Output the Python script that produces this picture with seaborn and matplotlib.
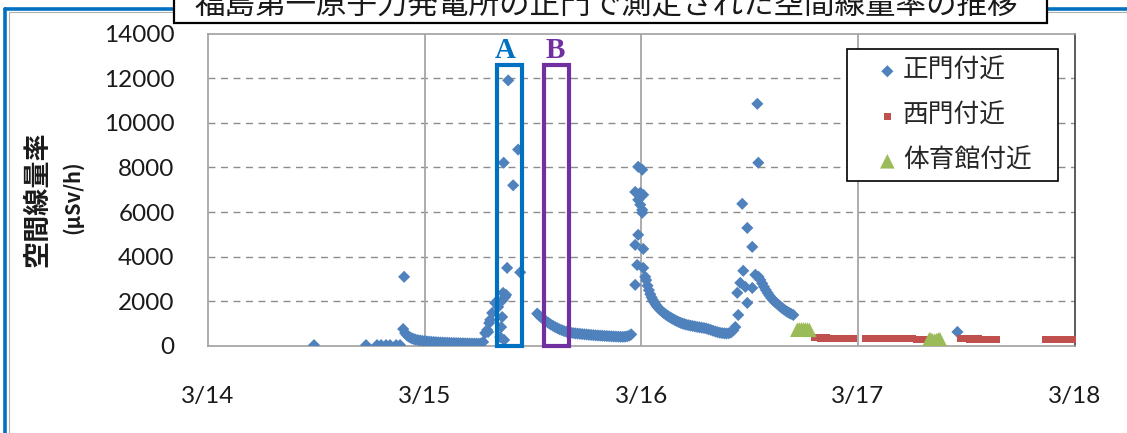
import matplotlib
matplotlib.use("Agg")
import matplotlib.pyplot as plt
import seaborn as sns
import pandas as pd
from matplotlib.patches import Rectangle
from matplotlib.lines import Line2D

# ---------------- data (hours since 3/14 00:00, dose rate in uSv/h) ----------------
main_gate_hours = [
    # 3/14 daytime + night decay
    11.75, 17.51, 18.73, 19.18, 19.73, 20.17, 20.84, 21.28, 21.62, 21.73,
    21.84, 22.0, 22.2, 22.4, 22.6, 22.8, 23.0, 23.25, 23.5, 23.75,
    24.0, 24.25, 24.5, 24.75, 25.0, 25.25, 25.5, 25.75, 26.0, 26.25,
    26.5, 26.75, 27.0, 27.25, 27.5, 27.75, 28.0, 28.25, 28.5, 28.75,
    29.0, 29.25, 29.5, 29.75, 30.0, 30.2,
    # 3/15 morning burst (A)
    30.48, 30.71, 30.93, 31.04, 31.15, 31.26, 31.48, 31.81, 32.15, 32.37,
    32.48, 32.59, 32.65, 32.70, 32.76, 32.81, 32.92, 33.03, 33.14, 33.26,
    33.81, 34.36, 34.59,
    # 3/15 afternoon decay (B)
    36.47, 36.7, 36.95, 37.2, 37.45, 37.7, 37.95, 38.2, 38.45, 38.7,
    38.95, 39.2, 39.45, 39.7, 39.95, 40.2, 40.45, 40.7, 40.95, 41.2,
    41.45, 41.7, 41.95, 42.2, 42.45, 42.7, 42.95, 43.2, 43.45, 43.7,
    43.95, 44.2, 44.45, 44.7, 44.95, 45.2, 45.45, 45.7, 45.95, 46.2,
    46.45, 46.7, 46.89,
    # 3/16 midnight burst
    47.33, 47.33, 47.33, 47.55, 47.66, 47.66, 47.66, 47.89, 47.89, 48.11,
    48.11, 48.11, 48.22, 48.22, 48.22, 48.44,
    # 3/16 decay
    48.55, 48.7, 48.85, 49.0, 49.15, 49.3, 49.45, 49.6, 49.75, 49.95,
    50.15, 50.35, 50.55, 50.75, 50.95, 51.15, 51.35, 51.55, 51.75, 51.95,
    52.15, 52.35, 52.55, 52.75, 52.95, 53.2, 53.45, 53.7, 53.95, 54.2,
    54.45, 54.7, 54.95, 55.2, 55.45, 55.7, 55.95, 56.2, 56.45, 56.7,
    56.95, 57.2, 57.45, 57.7, 57.95, 58.2, 58.42,
    # 3/16 late-morning burst
    58.64, 58.75, 58.97, 59.19, 59.30, 59.53, 59.75, 59.75, 60.30, 60.30,
    60.64, 60.86, 60.97,
    # 3/16 afternoon decay
    61.0, 61.2, 61.4, 61.6, 61.8, 62.0, 62.2, 62.4, 62.6, 62.8,
    63.0, 63.2, 63.4, 63.6, 63.8, 64.0, 64.2, 64.4, 64.6, 64.85,
    # 3/17
    83.03,
]
main_gate_values = [
    40, 40, 40, 40, 40, 40, 40, 40, 760, 3100,
    580, 500, 430, 380, 340, 310, 285, 262, 245, 230,
    215, 205, 195, 187, 180, 172, 165, 160, 155, 150,
    146, 142, 138, 134, 130, 127, 124, 121, 118, 115,
    113, 110, 108, 106, 104, 103,
    180, 580, 720, 630, 1030, 1170, 1480, 1930, 1750, 400,
    850, 1300, 2060, 2380, 8210, 270, 2200, 2290, 3500, 11900,
    7200, 8800, 3300,
    1450, 1360, 1270, 1190, 1110, 1040, 970, 910, 850, 800,
    750, 710, 670, 640, 615, 595, 580, 565, 555, 545,
    535, 525, 515, 505, 495, 487, 480, 472, 465, 458,
    452, 446, 440, 434, 428, 423, 418, 414, 412, 418,
    435, 470, 520,
    6900, 4530, 2740, 3630, 8030, 6550, 4980, 6860, 6330, 7900,
    6100, 5970, 6775, 4350, 3500, 3100,
    2950, 2700, 2500, 2320, 2180, 2060, 1950, 1860, 1770, 1680,
    1600, 1530, 1460, 1400, 1345, 1295, 1245, 1200, 1155, 1115,
    1075, 1040, 1010, 985, 960, 935, 915, 895, 875, 855,
    838, 820, 805, 785, 755, 720, 685, 650, 620, 595,
    578, 568, 562, 570, 610, 700, 850,
    2380, 1390, 2830, 6370, 3370, 2650, 5290, 1930, 4440, 2600,
    3190, 10850, 8210,
    3100, 2960, 2800, 2650, 2510, 2380, 2260, 2150, 2060, 1980,
    1910, 1840, 1770, 1700, 1640, 1580, 1530, 1480, 1440, 1390,
    630,
]

west_gate_hours = [
    67.2, 67.5, 67.9, 68.2, 68.5, 68.9, 69.2, 69.5, 69.9, 70.2, 70.5, 70.9, 71.2, 71.5,
    72.8, 73.1, 73.5, 73.8, 74.1, 74.5, 74.8, 75.1, 75.5, 75.8, 76.1, 76.5, 76.8, 77.1,
    77.5, 77.8, 78.1, 78.5, 78.8, 79.1, 79.4,
    83.4, 83.7, 84.1, 84.4, 84.7, 85.1, 85.4, 85.7, 86.1, 86.4, 86.7, 87.0, 87.3,
    92.8, 93.1, 93.5, 93.8, 94.1, 94.5, 94.8, 95.1, 95.5, 95.8,
]
west_gate_values = [
    365, 362, 360, 361, 358, 356, 355, 354, 352, 350, 351, 348, 346, 345,
    345, 344, 343, 342, 341, 340, 340, 338, 337, 336, 335, 334, 333, 332,
    331, 330, 330, 300, 290, 285, 280,
    320, 318, 316, 315, 314, 313, 312, 311, 310, 309, 308, 307, 306,
    305, 304, 303, 302, 301, 300, 300, 299, 298, 297,
]

gym_hours = [65.29, 65.51, 65.74, 65.96, 66.18, 66.40, 66.62,
             79.92, 80.09, 80.26, 80.48, 80.70, 80.92, 81.09]
gym_values = [730, 740, 745, 745, 740, 735, 725,
              300, 290, 250, 240, 260, 290, 300]

day_ticks = [0, 24, 48, 72, 96]
day_labels = ["3/14", "3/15", "3/16", "3/17", "3/18"]
y_ticks = [0, 2000, 4000, 6000, 8000, 10000, 12000, 14000]

series_names = ["正門付近", "西門付近", "体育館付近"]
title_text = "福島第一原子力発電所の正門で測定された空間線量率の推移"

# ---------------- styling ----------------
sns.set_style("white")
plt.rcParams["font.family"] = ["Lato", "Noto Sans CJK JP", "DejaVu Sans"]
CJK = ["Noto Sans CJK JP", "DejaVu Sans"]

W, H = 1127, 433
fig = plt.figure(figsize=(W / 100, H / 100), dpi=100)
fig.patch.set_facecolor("white")

def fx(px):
    return px / W

def fy(py):
    return 1 - py / H

ax_left, ax_right, ax_top, ax_bottom = 208, 1074.5, 33.5, 346
ax_w, ax_h = ax_right - ax_left, ax_bottom - ax_top
ax = fig.add_axes([fx(ax_left), fy(ax_bottom), fx(ax_w), ax_h / H])

def axfx(px):
    return (px - ax_left) / ax_w

def axfy(py):
    return (ax_bottom - py) / ax_h

main_df = pd.DataFrame({"hour": main_gate_hours, "value": main_gate_values})
west_df = pd.DataFrame({"hour": west_gate_hours, "value": west_gate_values})
gym_df = pd.DataFrame({"hour": gym_hours, "value": gym_values})

sns.scatterplot(data=main_df, x="hour", y="value", ax=ax, marker="D", s=38,
                color="#4F81BD", edgecolor="none", linewidth=0, label=series_names[0], zorder=4)
sns.scatterplot(data=west_df, x="hour", y="value", ax=ax, marker="s", s=26,
                color="#C0504D", edgecolor="none", linewidth=0, label=series_names[1], zorder=4,
                clip_on=False)
sns.scatterplot(data=gym_df, x="hour", y="value", ax=ax, marker="^", s=110,
                color="#9BBB59", edgecolor="none", linewidth=0, label=series_names[2], zorder=5)

ax.set_xlim(0, 96)
ax.set_ylim(0, 14000)
ax.set_xlabel("")
ax.set_ylabel("")
ax.set_xticks(day_ticks)
ax.set_xticklabels(day_labels)
ax.set_xticks([h for h in range(6, 96, 6) if h % 24 != 0], minor=True)
ax.set_yticks(y_ticks)
ax.set_yticklabels([str(v) for v in y_ticks])

ax.tick_params(axis="x", which="major", length=0, pad=29, labelsize=17.5, labelcolor="#1a1a1a")
ax.tick_params(axis="x", which="minor", direction="in", length=6, width=1, color="#9a9a9a")
ax.tick_params(axis="y", which="major", length=0, pad=24, labelsize=17.5, labelcolor="#1a1a1a")

ax.grid(False)
for v in y_ticks[1:-1]:
    ax.axhline(v, color="#8c8c8c", lw=1.0, ls=(0, (5, 4)), zorder=1)
for d in day_ticks[1:-1]:
    ax.axvline(d, color="#a6a6a6", lw=1.3, zorder=1)

for side in ["left", "bottom", "top"]:
    ax.spines[side].set_color("#a0a0a0")
    ax.spines[side].set_linewidth(1.2)
ax.spines["right"].set_color("#404040")
ax.spines["right"].set_linewidth(1.2)

# A / B boxes
boxA = Rectangle((32.03, 20), 34.79 - 32.03, 12580, fill=False, edgecolor="#0070C0", lw=3.0,
                 zorder=6, clip_on=False)
boxB = Rectangle((37.28, 0), 40.04 - 37.28, 12600, fill=False, edgecolor="#7030A0", lw=3.0,
                 zorder=6, clip_on=False)
ax.add_patch(boxA)
ax.add_patch(boxB)
ax.text(32.97, 12880, "A", color="#0070C0", fontsize=21, fontweight="bold",
        family="Liberation Serif", ha="center", va="baseline", zorder=7)
ax.text(38.50, 12880, "B", color="#7030A0", fontsize=21, fontweight="bold",
        family="Liberation Serif", ha="center", va="baseline", zorder=7)

# legend: frame drawn separately to match the wide padding of the original
ax.add_patch(Rectangle((axfx(847), axfy(181)), axfx(1058) - axfx(847), axfy(49) - axfy(181),
                       transform=ax.transAxes, facecolor="white", edgecolor="black", lw=1.2,
                       zorder=8, clip_on=False))
leg = ax.legend(loc="upper left", bbox_to_anchor=(axfx(874.5), axfy(58)), frameon=False,
                prop={"family": CJK, "size": 18.5}, labelspacing=0.74, handletextpad=0.1,
                handlelength=1.0, borderpad=0, borderaxespad=0)
leg.set_zorder(9)

# y label (two lines)
fig.text(fx(37), fy(199), "空間線量率", rotation=90, fontsize=19.5, family=CJK, fontweight="bold",
         ha="center", va="center", color="#1a1a1a")
fig.text(fx(72), fy(197), "(μSv/h)", rotation=90, fontsize=14.5, fontweight="bold",
         family=CJK, ha="center", va="center", color="#1a1a1a")

# outer blue frame
fig.add_artist(Line2D([fx(5.3), fx(5.3)], [fy(9), fy(440)], color="#0070C0", lw=2.6,
                      transform=fig.transFigure, zorder=1))
fig.add_artist(Line2D([fx(5.3), fx(1130)], [fy(9), fy(9)], color="#0070C0", lw=2.6,
                      transform=fig.transFigure, zorder=1))
fig.add_artist(Line2D([fx(8.5), fx(8.5)], [fy(12), fy(440)], color="#b0b0b0", lw=0.8,
                      transform=fig.transFigure, zorder=1))
fig.add_artist(Line2D([fx(8.5), fx(1130)], [fy(12), fy(12)], color="#b0b0b0", lw=0.8,
                      transform=fig.transFigure, zorder=1))

# title box (its top is cut off by the image edge, as in the original)
fig.add_artist(Rectangle((fx(173.5), fy(23)), fx(1047 - 173.5), 30 / H, transform=fig.transFigure,
                         facecolor="white", edgecolor="black", lw=1.6, zorder=3, clip_on=False))
fig.text(fx(606), fy(13), title_text, fontsize=22, family=CJK, ha="center", va="baseline",
         color="#1a1a1a", zorder=4)

fig.savefig("out.png", dpi=100)
